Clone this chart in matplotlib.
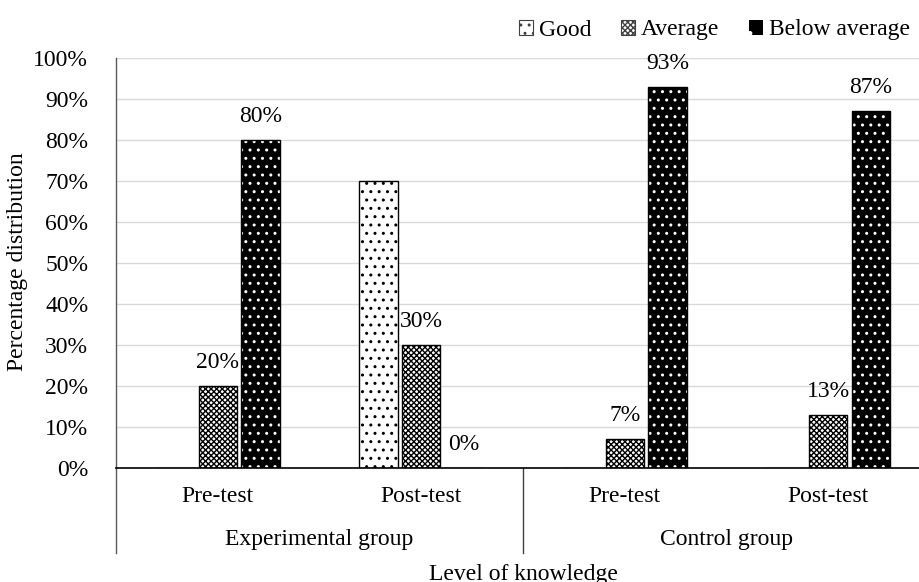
import matplotlib
matplotlib.use("Agg")
import matplotlib.pyplot as plt
from matplotlib.patches import Rectangle
import numpy as np

plt.rcParams['font.family'] = ['Liberation Serif', 'DejaVu Serif']
plt.rcParams['hatch.linewidth'] = 1.0

tests = ["Pre-test", "Post-test", "Pre-test", "Post-test"]
groups = ["Experimental group", "Control group"]
series = ["Good", "Average", "Below average"]
good = [0, 70, 0, 0]
average = [20, 30, 7, 13]
below = [80, 0, 93, 87]
yticks = [0, 10, 20, 30, 40, 50, 60, 70, 80, 90, 100]

FS = 17
fig = plt.figure(figsize=(9.2, 5.82), dpi=100)
W, H = 920, 582
left, right, top, bottom = 116, 930, 58, 468
ax = fig.add_axes([left / W, (H - bottom) / H, (right - left) / W, (bottom - top) / H])

x = np.arange(len(tests))
bw = 0.187
off = 0.21

# Good: white with sparse dots
ax.bar(x - off, good, bw, facecolor='white', edgecolor='black', hatch='..', linewidth=1.0, zorder=3)
# Average: dense checker
ax.bar(x, average, bw, facecolor='white', edgecolor='black', hatch='xxxxxx', linewidth=1.0, zorder=3)
# Below average: black with white dots
ax.bar(x + off, below, bw, facecolor='black', edgecolor='white', hatch='..', linewidth=0, zorder=3)
ax.bar(x + off, below, bw, fill=False, edgecolor='black', linewidth=1.0, zorder=4)

for xi, v in zip(x, average):
    ax.annotate(f"{v}%", (xi, v), xytext=(0, 17), textcoords='offset points',
                ha='center', va='center', fontsize=FS)
for xi, v in zip(x, below):
    ax.annotate(f"{v}%", (xi + off, v), xytext=(0, 17), textcoords='offset points',
                ha='center', va='center', fontsize=FS)

ax.set_xlim(-0.5, 3.5)
ax.set_ylim(0, 100)
ax.set_yticks(yticks)
ax.set_yticklabels([f"{t}%" for t in yticks], fontsize=FS)
ax.tick_params(axis='y', length=0, pad=20)
ax.set_xticks([])
ax.yaxis.grid(True, color='#d9d9d9', linewidth=1.0, zorder=0)
ax.set_axisbelow(True)
for s in ['top', 'right', 'bottom']:
    ax.spines[s].set_visible(False)
ax.spines['left'].set_color('#595959')
ax.spines['left'].set_linewidth(1.0)

# baseline
ax.plot([0, 1], [0, 0], transform=ax.transAxes, color='black', lw=1.2, clip_on=False, zorder=5)
ylow = (468 - 553) / (bottom - top)
ax.plot([0, 0], [0, ylow], transform=ax.transAxes, color='#595959', lw=1.0, clip_on=False)
ax.plot([0.5, 0.5], [0, ylow], transform=ax.transAxes, color='#404040', lw=1.0, clip_on=False)

tr = ax.get_xaxis_transform()
for xi, t in zip(x, tests):
    ax.text(xi, -(497 - 468) / (bottom - top), t, transform=tr, ha='center', va='center', fontsize=FS)
for gi, g in enumerate(groups):
    ax.text(0.5 + 2 * gi, -(540 - 468) / (bottom - top), g, transform=tr, ha='center', va='center', fontsize=FS)

fig.text(523 / W, 1 - 580 / H, "Level of knowledge", ha='center', va='baseline', fontsize=FS)
fig.text(18 / W, 1 - 262 / H, "Percentage distribution", ha='center', va='center', rotation=90, fontsize=FS)

h_good = Rectangle((0, 0), 1, 1, facecolor='white', edgecolor='#404040', hatch='..', lw=0.8)
h_avg = Rectangle((0, 0), 1, 1, facecolor='white', edgecolor='#404040', hatch='xxxxxx', lw=0.8)
h_below = Rectangle((0, 0), 1, 1, facecolor='black', edgecolor='white', hatch='.', lw=0)
fig.legend([h_good, h_avg, h_below], series, loc='center right',
           bbox_to_anchor=(910 / W, 1 - 30 / H), ncol=3, frameon=False, fontsize=FS,
           handlelength=0.6, handleheight=0.6, handletextpad=0.25, columnspacing=1.25,
           borderaxespad=0, borderpad=0)

fig.savefig("out.png", dpi=100)
